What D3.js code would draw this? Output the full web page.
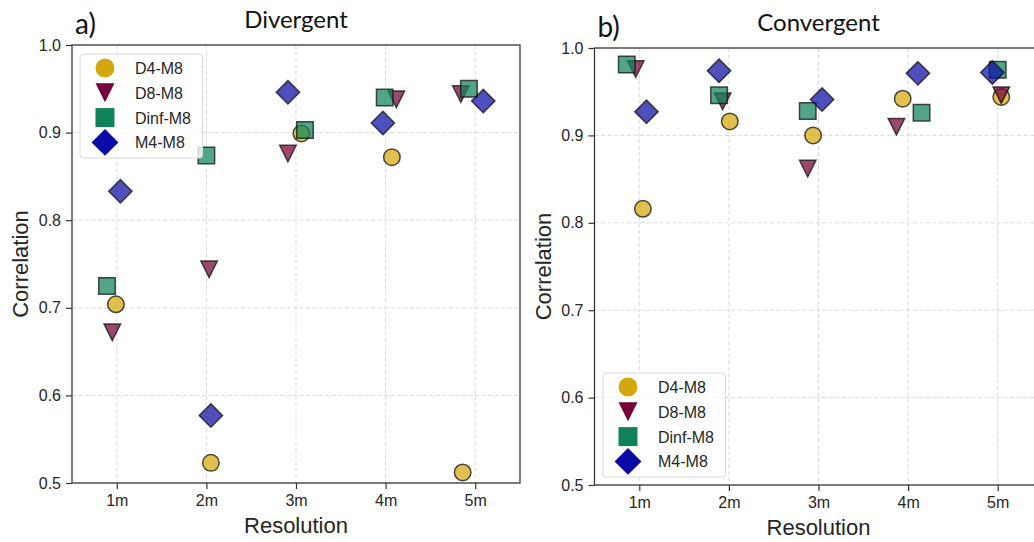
<!DOCTYPE html>
<html>
<head>
<meta charset="utf-8">
<script src="https://cdn.jsdelivr.net/npm/d3@7"></script>
<style>
  html, body { margin: 0; padding: 0; background: #ffffff; }
  svg { display: block; }
</style>
</head>
<body>
<svg id="chart" width="1034" height="542"></svg>
<script>
// Resolution categories along x and the four method comparisons
const resolutions = ["1m", "2m", "3m", "4m", "5m"];
const seriesNames = ["D4-M8", "D8-M8", "Dinf-M8", "M4-M8"];
const yTicks = [0.5, 0.6, 0.7, 0.8, 0.9, 1.0];

// Correlation values, divergent terrain (one value per resolution)
const divD4   = [0.704, 0.523, 0.899, 0.872, 0.512];
const divD8   = [0.672, 0.744, 0.876, 0.938, 0.944];
const divDinf = [0.725, 0.874, 0.903, 0.940, 0.950];
const divM4   = [0.833, 0.577, 0.946, 0.911, 0.936];

// Strip-plot jitter (in resolution units), divergent terrain
const divJitD4   = [-0.01, 0.05, 0.06, 0.07, -0.14];
const divJitD8   = [-0.05, 0.03, -0.09, 0.12, -0.16];
const divJitDinf = [-0.11, 0.00, 0.10, -0.01, -0.07];
const divJitM4   = [0.04, 0.05, -0.09, -0.03, 0.09];

// Correlation values, convergent terrain
const conD4   = [0.816, 0.916, 0.900, 0.942, 0.944];
const conD8   = [0.976, 0.939, 0.862, 0.910, 0.946];
const conDinf = [0.981, 0.946, 0.928, 0.926, 0.975];
const conM4   = [0.927, 0.974, 0.941, 0.971, 0.972];

// Strip-plot jitter, convergent terrain
const conJitD4   = [0.04, 0.01, -0.06, -0.06, 0.04];
const conJitD8   = [-0.04, -0.07, -0.12, -0.13, 0.04];
const conJitDinf = [-0.14, -0.11, -0.12, 0.15, 0.00];
const conJitM4   = [0.08, -0.11, 0.04, 0.11, -0.06];

const colors = ["#d6a70c", "#760039", "#10825a", "#0b0ba5"];

// Marker shapes; "size" is the square of the marker's nominal width
const shapeCircle = { draw(ctx, size) { const r = Math.sqrt(size) / 2; ctx.moveTo(r, 0); ctx.arc(0, 0, r, 0, 2 * Math.PI); } };
const shapeTriDown = { draw(ctx, size) { const h = Math.sqrt(size) / 2; ctx.moveTo(0, h); ctx.lineTo(-h, -h); ctx.lineTo(h, -h); ctx.closePath(); } };
const shapeSquare = { draw(ctx, size) { const h = Math.sqrt(size) / 2; ctx.rect(-h, -h, 2 * h, 2 * h); } };
const shapeDiamond = { draw(ctx, size) { const h = Math.sqrt(size) * Math.SQRT2 / 2; ctx.moveTo(0, -h); ctx.lineTo(h, 0); ctx.lineTo(0, h); ctx.lineTo(-h, 0); ctx.closePath(); } };
const shapes = [shapeCircle, shapeTriDown, shapeSquare, shapeDiamond];

const panels = [
  { tag: "a)", title: "Divergent", left: 72, top: 45, width: 448, height: 438,
    values: [divD4, divD8, divDinf, divM4], jitter: [divJitD4, divJitD8, divJitDinf, divJitM4],
    legend: { x: 80, y: 54 } },
  { tag: "b)", title: "Convergent", left: 594.5, top: 48, width: 448, height: 437,
    values: [conD4, conD8, conDinf, conM4], jitter: [conJitD4, conJitD8, conJitDinf, conJitM4],
    legend: { x: 603, y: 373 } }
];

const svg = d3.select("#chart");
const textColor = "#262626";
const tickFont = "'Liberation Sans', Arial, sans-serif";

panels.forEach(p => {
  const g = svg.append("g").attr("transform", `translate(${p.left},${p.top})`);
  const x = d3.scaleLinear().domain([0.5, resolutions.length + 0.5]).range([0, p.width]);
  const y = d3.scaleLinear().domain([0.5, 1.0]).range([p.height, 0]);
  const xPos = resolutions.map((_, i) => i + 1);

  // dashed grid
  g.append("g").selectAll("line").data(xPos).join("line")
    .attr("x1", d => x(d)).attr("x2", d => x(d)).attr("y1", 0).attr("y2", p.height)
    .attr("stroke", "#cfcfcf").attr("stroke-width", 0.8).attr("stroke-dasharray", "4,2.5");
  g.append("g").selectAll("line").data(yTicks).join("line")
    .attr("x1", 0).attr("x2", p.width).attr("y1", d => y(d)).attr("y2", d => y(d))
    .attr("stroke", "#cfcfcf").attr("stroke-width", 0.8).attr("stroke-dasharray", "4,2.5");

  // axes
  const xAxis = g.append("g").attr("transform", `translate(0,${p.height})`)
    .call(d3.axisBottom(x).tickValues(xPos).tickFormat(d => resolutions[d - 1]).tickSize(6).tickPadding(6));
  const yAxis = g.append("g")
    .call(d3.axisLeft(y).tickValues(yTicks).tickFormat(d3.format(".1f")).tickSize(6).tickPadding(5));
  [xAxis, yAxis].forEach(a => {
    a.select(".domain").remove();
    a.selectAll(".tick line").attr("stroke", "#333").attr("stroke-width", 1.2);
    a.selectAll(".tick text").attr("fill", textColor).style("font-family", tickFont).style("font-size", "16px");
  });

  // frame
  g.append("rect").attr("x", 0).attr("y", 0).attr("width", p.width).attr("height", p.height)
    .attr("fill", "none").attr("stroke", "#333").attr("stroke-width", 1.25);

  // points, series drawn in order so later ones sit on top
  p.values.forEach((vals, si) => {
    const sym = d3.symbol().type(shapes[si]).size(16.5 * 16.5);
    g.append("g").selectAll("path").data(vals).join("path")
      .attr("d", sym)
      .attr("transform", (d, i) => `translate(${x(xPos[i] + p.jitter[si][i])},${y(d)})`)
      .attr("fill", colors[si]).attr("fill-opacity", 0.72)
      .attr("stroke", "#111").attr("stroke-opacity", 0.75).attr("stroke-width", 1.5)
      .attr("stroke-linejoin", "miter");
  });

  // axis labels
  g.append("text").attr("x", p.width / 2).attr("y", p.height + 50)
    .attr("text-anchor", "middle").attr("fill", textColor)
    .style("font-family", tickFont).style("font-size", "22px").text("Resolution");
  g.append("text").attr("transform", `translate(-44,${p.height / 2}) rotate(-90)`)
    .attr("text-anchor", "middle").attr("fill", textColor)
    .style("font-family", tickFont).style("font-size", "22px").text("Correlation");

  // title and panel tag
  g.append("text").attr("x", p.width / 2).attr("y", -17).attr("text-anchor", "middle")
    .attr("fill", "#111").style("font-family", "Lato, sans-serif").style("font-size", "24px").text(p.title);
  g.append("text").attr("x", 3).attr("y", -11)
    .attr("fill", "#111").style("font-family", "Lato, sans-serif").style("font-size", "28px").text(p.tag);

  // legend
  const lg = svg.append("g").attr("transform", `translate(${p.legend.x},${p.legend.y})`);
  lg.append("rect").attr("width", 122.5).attr("height", 104).attr("rx", 3)
    .attr("fill", "#fff").attr("fill-opacity", 0.8).attr("stroke", "#d8d8d8").attr("stroke-width", 1);
  seriesNames.forEach((name, si) => {
    const row = lg.append("g").attr("transform", `translate(0,${14 + si * 24.8})`);
    row.append("path").attr("d", d3.symbol().type(shapes[si]).size(19 * 19)())
      .attr("transform", "translate(25,0)").attr("fill", colors[si]);
    row.append("text").attr("x", 55).attr("y", 6).attr("fill", textColor)
      .style("font-family", tickFont).style("font-size", "16px").text(name);
  });
});
</script>
</body>
</html>
